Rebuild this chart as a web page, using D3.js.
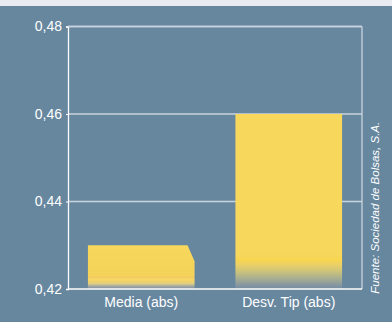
<!DOCTYPE html>
<html>
<head>
<meta charset="utf-8">
<script src="https://cdn.jsdelivr.net/npm/d3@7"></script>
<style>
  html, body { margin: 0; padding: 0; background: #67879f; }
  svg { display: block; }
  text { font-family: "Liberation Sans", Arial, sans-serif; }
</style>
</head>
<body>
<svg id="chart" width="392" height="322"></svg>
<script>
// Series
const categories = ["Media (abs)", "Desv. Tip (abs)"];
const values = [0.43, 0.46];
const tickValues = [0.42, 0.44, 0.46, 0.48];
const tickLabels = ["0,42", "0,44", "0,46", "0,48"];
const source = "Fuente: Sociedad de Bolsas, S.A.";

const W = 392, H = 322;
const plot = { left: 68, right: 362, top: 26.5, bottom: 289 };
const svg = d3.select("#chart");

// Light header strip above the panel
svg.append("rect").attr("x", 0).attr("y", 0).attr("width", W).attr("height", 6)
  .attr("fill", "#e9ebf1");

const y = d3.scaleLinear().domain([0.42, 0.48]).range([plot.bottom, plot.top]);
const x = d3.scaleBand().domain(categories)
  .range([plot.left, plot.right]).paddingInner(0.277).paddingOuter(0.135);

// Gradients: yellow face fading to blue-grey near the floor
const defs = svg.append("defs");
function makeGrad(id, stops) {
  const g = defs.append("linearGradient").attr("id", id)
    .attr("x1", 0).attr("y1", 0).attr("x2", 0).attr("y2", 1);
  stops.forEach(s => g.append("stop").attr("offset", s[0]).attr("stop-color", s[1]));
}
makeGrad("gMedia", [
  [0, "#f7d75c"], [0.70, "#f5d35a"], [0.73, "#f3c762"], [0.77, "#f6d866"],
  [0.83, "#f0d166"], [0.88, "#dccd86"], [0.92, "#b4b396"], [0.96, "#8f9ba6"], [1, "#7d8ea6"]
]);
makeGrad("gDesv", [
  [0, "#f7d75c"], [0.80, "#f7d75c"], [0.835, "#f8d650"], [0.86, "#ecd066"],
  [0.89, "#d5c774"], [0.92, "#b9b988"], [0.95, "#9fa894"], [0.975, "#8998a0"], [1, "#728ca6"]
]);
const gradIds = ["gMedia", "gDesv"];

// Grid lines and frame
const grid = svg.append("g");
tickValues.slice(1).forEach(v => {
  grid.append("line").attr("x1", plot.left).attr("x2", plot.right)
    .attr("y1", y(v)).attr("y2", y(v))
    .attr("stroke", "#c9d4dd").attr("stroke-width", 1.3);
});
grid.append("line").attr("x1", plot.right).attr("x2", plot.right)
  .attr("y1", plot.top).attr("y2", plot.bottom)
  .attr("stroke", "#c9d4dd").attr("stroke-width", 1.3);

// Bars with a slightly bevelled right edge
const bars = svg.append("g");
categories.forEach((c, i) => {
  const x0 = x(c), bw = x.bandwidth();
  const yt = y(values[i]), yb = y(0.42);
  const slant = i === 0 ? 7 : 3;
  const drop = i === 0 ? 16 : 0;
  const p = d3.path();
  p.moveTo(x0, yt);
  p.lineTo(x0 + bw - slant, yt);
  p.lineTo(x0 + bw, yt + drop);
  p.lineTo(x0 + bw, yb);
  p.lineTo(x0, yb);
  p.closePath();
  bars.append("path").attr("d", p.toString()).attr("fill", `url(#${gradIds[i]})`);
});

// Axes
const yAxis = d3.axisLeft(y).tickValues(tickValues)
  .tickFormat((d, i) => tickLabels[i]).tickSize(2).tickPadding(4);
const gy = svg.append("g").attr("transform", `translate(${plot.left},0)`).call(yAxis);
gy.select(".domain").attr("stroke", "#ffffff").attr("stroke-width", 1.3);
gy.selectAll(".tick line").attr("stroke", "#ffffff");
gy.selectAll(".tick text").attr("fill", "#ffffff").attr("font-size", 14)
  .attr("font-family", "Liberation Sans, Arial, sans-serif");

const xAxis = d3.axisBottom(x).tickSize(0).tickPadding(8);
const gx = svg.append("g").attr("transform", `translate(0,${plot.bottom})`).call(xAxis);
gx.select(".domain").attr("stroke", "#ffffff").attr("stroke-width", 1.6)
  .attr("d", `M${plot.left},0H${plot.right}`);
gx.selectAll(".tick text").attr("fill", "#ffffff").attr("font-size", 14)
  .attr("font-family", "Liberation Sans, Arial, sans-serif").attr("dy", "0.71em");

// Top frame line
svg.append("line").attr("x1", plot.left).attr("x2", plot.right)
  .attr("y1", plot.top).attr("y2", plot.top)
  .attr("stroke", "#c9d4dd").attr("stroke-width", 1.3);

// Source note, rotated along the right edge
svg.append("text")
  .attr("transform", `translate(379,${(plot.top + plot.bottom) / 2 + 50}) rotate(-90)`)
  .attr("text-anchor", "middle")
  .attr("fill", "#ffffff").attr("font-size", 11.5).attr("font-style", "italic")
  .text(source);
</script>
</body>
</html>
